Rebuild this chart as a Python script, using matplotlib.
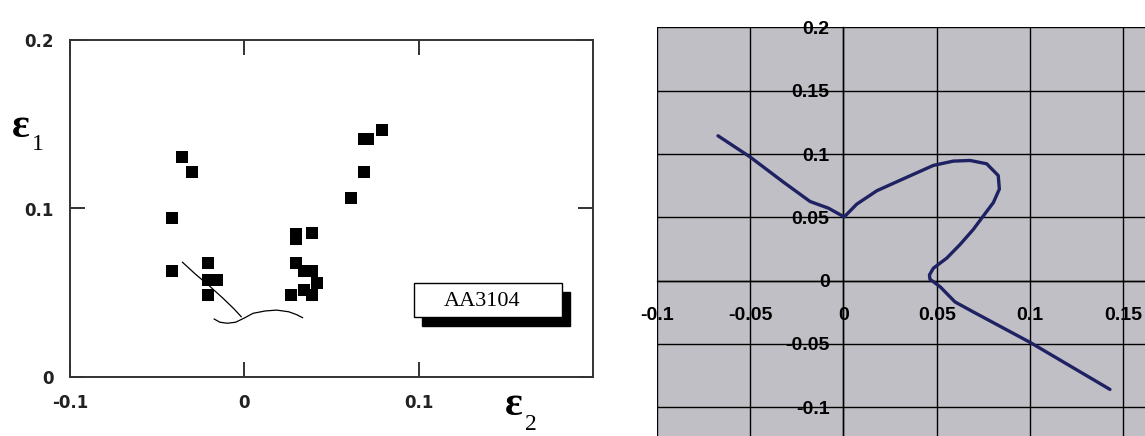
import matplotlib
matplotlib.use("Agg")
import matplotlib.pyplot as plt
from matplotlib.patches import Rectangle

# left panel: measured points (eps2, eps1)
sq_x = [-0.0359, -0.0302, -0.0414, -0.0414, -0.0207, -0.0207, -0.0159, -0.0207,
        0.0295, 0.0295, 0.0391, 0.0295, 0.0345, 0.0391, 0.0414, 0.0345, 0.0391, 0.0270,
        0.0609, 0.0686, 0.0686, 0.0709, 0.0789]
sq_y = [0.1307, 0.1215, 0.0945, 0.0632, 0.0675, 0.0577, 0.0577, 0.0485,
        0.0847, 0.0818, 0.0857, 0.0675, 0.0632, 0.0632, 0.0558, 0.0515, 0.0485, 0.0485,
        0.1063, 0.1215, 0.1415, 0.1415, 0.1468]

# left panel: the two thin curves
line1_x = [-0.0355, -0.0280, -0.0200, -0.0120, -0.0060, -0.0018]
line1_y = [0.0681, 0.0610, 0.0540, 0.0465, 0.0405, 0.0358]
line2_x = [-0.0173, -0.0140, -0.0098, -0.0050, 0.0000, 0.0050, 0.0120, 0.0186, 0.0255, 0.0300, 0.0334]
line2_y = [0.0344, 0.0325, 0.0319, 0.0325, 0.0350, 0.0378, 0.0392, 0.0397, 0.0387, 0.0370, 0.0352]

label_text = "AA3104"

# right panel: strain path
path_x = [-0.0673, -0.0500, -0.0321, -0.0179, -0.0080, 0.0004, 0.0071, 0.0179, 0.0339,
          0.0482, 0.0589, 0.0679, 0.0768, 0.0830, 0.0836, 0.0804, 0.0750, 0.0696, 0.0625,
          0.0554, 0.0482, 0.0461, 0.0464, 0.0518, 0.0598, 0.0696, 0.1000, 0.1429]
path_y = [0.1144, 0.0976, 0.0777, 0.0625, 0.0572, 0.0503, 0.0604, 0.0710, 0.0816,
          0.0910, 0.0944, 0.0949, 0.0923, 0.0830, 0.0723, 0.0617, 0.0511, 0.0404, 0.0285,
          0.0178, 0.0098, 0.0045, 0.0011, -0.0048, -0.0168, -0.0247, -0.0487, -0.0859]

W, H = 1145, 436
fig = plt.figure(figsize=(W / 100, H / 100), dpi=100)

######## left panel ########
ax1 = fig.add_axes([70 / W, 1 - 377 / H, (593 - 70) / W, (377 - 40) / H])
ax1.plot(sq_x, sq_y, "s", color="black", ms=8, mew=0)
ax1.plot(line1_x, line1_y, color="black", lw=0.9)
ax1.plot(line2_x, line2_y, color="black", lw=0.9)
ax1.set_xlim(-0.1, 0.2)
ax1.set_ylim(0, 0.2)
ax1.set_xticks([-0.1, 0, 0.1])
ax1.set_xticklabels(["-0.1", "0", "0.1"])
ax1.set_yticks([0, 0.1, 0.2])
ax1.set_yticklabels(["0", "0.1", "0.2"])
ax1.tick_params(direction="in", length=11, width=1.3, top=True, right=True,
                labelsize=12, pad=12, colors="#222222")
for lab in ax1.get_xticklabels() + ax1.get_yticklabels():
    lab.set_fontweight("bold")
for s in ax1.spines.values():
    s.set_linewidth(1.4)
    s.set_color("#333333")

# label box with shadow
ax1.add_patch(Rectangle((0.1021, 0.0303), 0.0849, 0.0202, color="black", zorder=3))
ax1.add_patch(Rectangle((0.0975, 0.0356), 0.0849, 0.0202, facecolor="white",
                        edgecolor="black", lw=1.0, zorder=4))
ax1.text(0.1365, 0.0446, label_text, ha="center", va="center", fontsize=16,
         family="Liberation Serif", zorder=5)

fig.text(21 / W, 1 - 127 / H, "ε", fontsize=30, fontweight="bold",
         family="Liberation Serif", ha="center", va="center")
fig.text(38 / W, 1 - 144 / H, "1", fontsize=17, family="Liberation Serif",
         ha="center", va="center")
fig.text(514 / W, 1 - 405 / H, "ε", fontsize=30, fontweight="bold",
         family="Liberation Serif", ha="center", va="center")
fig.text(531 / W, 1 - 424 / H, "2", fontsize=17, family="Liberation Serif",
         ha="center", va="center")

######## right panel ########
ax2 = fig.add_axes([657 / W, 0, 1 - 657 / W, 1 - 27.4 / H])
ax2.set_facecolor("#c0bfc5")
ax2.plot(path_x, path_y, color="#1f2262", lw=2.4, solid_capstyle="round",
         solid_joinstyle="round", zorder=3)
ax2.set_xlim(-0.1, 0.1617)
ax2.set_ylim(-0.1227, 0.2)
ax2.set_xticks([-0.1, -0.05, 0, 0.05, 0.1, 0.15])
ax2.set_xticklabels(["-0.1", "-0.05", "0", "0.05", "0.1", "0.15"])
ax2.set_yticks([-0.1, -0.05, 0, 0.05, 0.1, 0.15, 0.2])
ax2.set_yticklabels(["-0.1", "-0.05", "0", "0.05", "0.1", "0.15", "0.2"])
ax2.grid(True, color="black", lw=1.0)
ax2.set_axisbelow(True)
ax2.spines["left"].set_position(("data", 0))
ax2.spines["bottom"].set_position(("data", 0))
ax2.spines["left"].set_color("black")
ax2.spines["bottom"].set_color("black")
ax2.spines["left"].set_linewidth(1.0)
ax2.spines["bottom"].set_linewidth(1.0)
ax2.spines["top"].set_visible(False)
ax2.spines["right"].set_visible(False)
ax2.tick_params(axis="x", length=0, pad=19, labelsize=14)
ax2.tick_params(axis="y", length=0, pad=10, labelsize=14)
for lab in ax2.get_xticklabels() + ax2.get_yticklabels():
    lab.set_fontweight("bold")
    lab.set_family("Liberation Sans")
    lab.set_clip_on(False)

fig.savefig("out.png", dpi=100)
